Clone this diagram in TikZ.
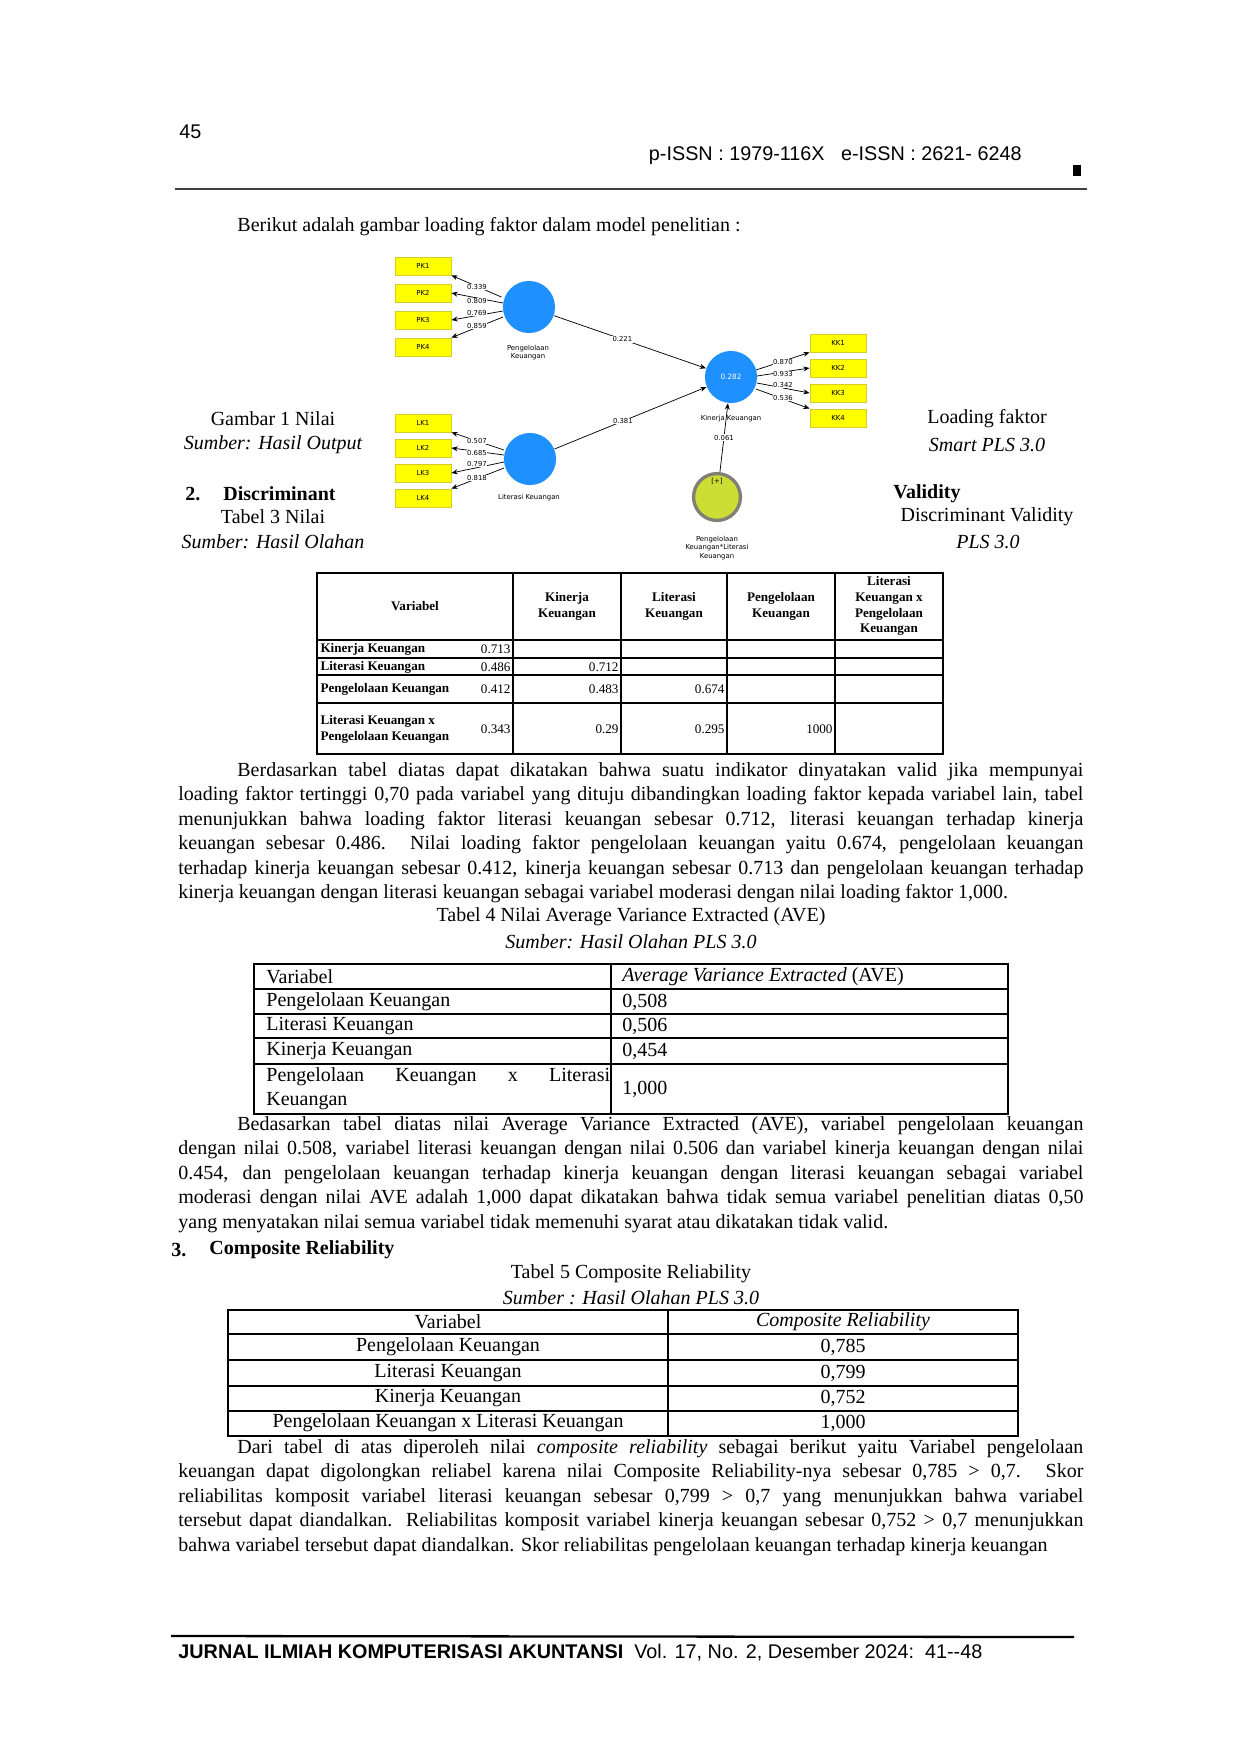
\documentclass[tikz,border=0pt]{standalone}
\usepackage{fontspec}
\setmainfont{Liberation Serif}
\newfontfamily\hsans{Liberation Sans}
\newfontfamily\dsans{DejaVu Sans}
\usetikzlibrary{arrows.meta}
\definecolor{pblue}{RGB}{30,144,255}
\definecolor{pyel}{RGB}{255,255,0}
\definecolor{pyeld}{RGB}{215,205,40}
\definecolor{pmod}{RGB}{204,221,51}
\definecolor{pring}{RGB}{128,128,118}
\begin{document}
\begin{tikzpicture}[x=0.48pt,y=-0.48pt,
  ind/.style={draw=pyeld,fill=pyel,minimum width=26.9pt,minimum height=8.6pt,inner sep=0pt,font=\dsans\fontsize{3.3}{4}\selectfont},
  lat/.style={circle,fill=pblue,minimum size=25pt,inner sep=0pt},
  lbl/.style={font=\dsans\fontsize{3.3}{3.9}\selectfont,align=center,inner sep=0.2pt},
  ld/.style={fill=white,font=\dsans\fontsize{3.3}{3.9}\selectfont,inner sep=0.3pt},
  arr/.style={-{Stealth[length=3pt,width=2.4pt]},line width=0.35pt},
  body/.style={anchor=north west,text width=434.4pt,align=justify,inner sep=0pt,font=\fontsize{9.6}{11.75}\selectfont},
  ctr/.style={font=\fontsize{9.6}{11.75}\selectfont,inner sep=0pt},
  tb/.style={font=\bfseries\fontsize{6.3}{7.6}\selectfont,inner sep=1pt},
  cell/.style={font=\fontsize{9.6}{11.75}\selectfont,inner sep=0pt}
]
\useasboundingbox (0,0) rectangle (1240,1754);
% header
\node[anchor=west,font=\hsans\fontsize{9.5}{11}\selectfont,inner sep=0pt] (pg) at (179,132) {45};
\node[anchor=east,font=\hsans\fontsize{9.5}{11}\selectfont,inner sep=0pt] (issn) at (1022,156) {p-ISSN : 1979-116X\ \ \ e-ISSN : 2621- 6248};
\fill (1073,165) rectangle (1081,176);
\draw[line width=1pt,black!75] (175,189) -- (1087,189);
\node[ctr,anchor=west] (intro) at (237,227) {Berikut adalah gambar loading faktor dalam model penelitian :};

% ===== diagram =====
\node[ind] (pk1) at (423,266) {PK1};
\node[ind] (pk2) at (423,293) {PK2};
\node[ind] (pk3) at (423,320) {PK3};
\node[ind] (pk4) at (423,347) {PK4};
\node[ind] (lk1) at (423,423) {LK1};
\node[ind] (lk2) at (423,448) {LK2};
\node[ind] (lk3) at (423,473) {LK3};
\node[ind] (lk4) at (423,498) {LK4};
\node[ind] (kk1) at (838,343) {KK1};
\node[ind] (kk2) at (838,368) {KK2};
\node[ind] (kk3) at (838,393) {KK3};
\node[ind] (kk4) at (838,418) {KK4};
\node[lat] (pen) at (529,307) {};
\node[lat] (lit) at (530,459) {};
\node[lat,font=\dsans\fontsize{3.5}{4}\selectfont,text=white] (kin) at (731,377) {0.282};
\node[circle,fill=pmod,draw=pring,line width=1.6pt,minimum size=22.5pt,inner sep=0pt] (mod) at (717,497) {};
\node[lbl] at (717,481) {[+]};
\node[lbl] (penl) at (528,353) {Pengelolaan\\Keuangan};
\node[lbl] (litl) at (529,498) {Literasi Keuangan};
\node[lbl] (kinl) at (731,419) {Kinerja Keuangan};
\node[lbl] (modl) at (717,548) {Pengelolaan\\Keuangan*Literasi\\Keuangan};
% loadings PK
\draw[arr] (pen.178) ++(-1,-9) coordinate (a1) -- (pk1.south east);
\draw[arr] (pen) ++(-26,-4) coordinate (a2) -- (pk2.east);
\draw[arr] (pen) ++(-26,4) coordinate (a3) -- (pk3.east);
\draw[arr] (pen) ++(-26,10) coordinate (a4) -- (pk4.north east);
\node[ld] at (477,287) {0.339};
\node[ld] at (477,301) {0.809};
\node[ld] at (477,313) {0.769};
\node[ld] at (477,326) {0.859};
% loadings LK
\draw[arr] (lit) ++(-26,-9) -- (lk1.south east);
\draw[arr] (lit) ++(-26,-4) -- (lk2.east);
\draw[arr] (lit) ++(-26,3) -- (lk3.east);
\draw[arr] (lit) ++(-26,9) -- (lk4.north east);
\node[ld] at (477,441) {0.507};
\node[ld] at (477,453) {0.685};
\node[ld] at (477,464) {0.797};
\node[ld] at (477,478) {0.818};
% loadings KK
\draw[arr] (kin) ++(25,-7) -- (kk1.south west);
\draw[arr] (kin) ++(26,-1) -- (kk2.west);
\draw[arr] (kin) ++(26,6) -- (kk3.west);
\draw[arr] (kin) ++(25,12) -- (kk4.north west);
\node[ld] at (783,362) {0.870};
\node[ld] at (783,374) {0.933};
\node[ld] at (783,385) {0.342};
\node[ld] at (783,398) {0.536};
% paths
\draw[arr] (pen) -- node[ld,pos=0.45] {0.221} (kin);
\draw[arr] (lit) -- node[ld,pos=0.45] {0.381} (kin);
\draw[arr] (mod) -- node[ld,pos=0.5] {0.061} (kin);

% side captions
\node[ctr] (g1) at (273,419) {Gambar 1 Nilai};
\node[ctr,font=\itshape\fontsize{9.6}{11.75}\selectfont] (g2) at (273,445) {Sumber: Hasil Output};
\node[ctr] (g3) at (987,419) {Loading faktor};
\node[ctr,font=\itshape\fontsize{9.6}{11.75}\selectfont] (g4) at (987,445) {Smart PLS 3.0};
\node[ctr,anchor=west,font=\bfseries\fontsize{9.6}{11.75}\selectfont] (n2) at (185,494) {2.};
\node[ctr,anchor=west,font=\bfseries\fontsize{9.6}{11.75}\selectfont] (dis) at (223,494) {Discriminant};
\node[ctr] (t3) at (273,517) {Tabel 3 Nilai};
\node[ctr,font=\itshape\fontsize{9.6}{11.75}\selectfont] (t3s) at (273,542) {Sumber: Hasil Olahan};
\node[ctr,anchor=west,font=\bfseries\fontsize{9.6}{11.75}\selectfont] (val) at (893,494) {Validity};
\node[ctr] (dv) at (987,517) {Discriminant Validity};
\node[ctr,font=\itshape\fontsize{9.6}{11.75}\selectfont] (pls) at (988,542) {PLS 3.0};

% ===== Table 3 =====
\begin{scope}[line width=0.9pt]
\draw (317,573) rectangle (943,754);
\foreach \x in {513,621,727,835} \draw (\x,573) -- (\x,754);
\foreach \y in {640,658,675,703} \draw (317,\y) -- (943,\y);
\end{scope}
\node[tb] at (415,606) {Variabel};
\node[tb,align=center] at (567,606) {Kinerja\\Keuangan};
\node[tb,align=center] at (674,606) {Literasi\\Keuangan};
\node[tb,align=center] at (781,606) {Pengelolaan\\Keuangan};
\node[tb,align=center] at (889,606) {Literasi\\Keuangan x\\Pengelolaan\\Keuangan};
\node[tb,anchor=west] at (318,649) {Kinerja Keuangan};
\node[tb,anchor=west] at (318,667) {Literasi Keuangan};
\node[tb,anchor=west] at (318,689) {Pengelolaan Keuangan};
\node[tb,anchor=west,align=left] at (318,729) {Literasi Keuangan x\\Pengelolaan Keuangan};
\tikzset{tv/.style={font=\fontsize{6.3}{7.6}\selectfont,inner sep=1pt,anchor=east}}
\node[tv] at (513,649) {0.713};
\node[tv] at (513,667) {0.486};
\node[tv] at (621,667) {0.712};
\node[tv] at (513,689) {0.412};
\node[tv] at (621,689) {0.483};
\node[tv] at (727,689) {0.674};
\node[tv] at (513,729) {0.343};
\node[tv] at (621,729) {0.29};
\node[tv] at (727,729) {0.295};
\node[tv] at (835,729) {1000};

% paragraph 1
\node[body] (p1) at (178,762) {\hspace*{28.3pt}Berdasarkan tabel diatas dapat dikatakan bahwa suatu indikator dinyatakan valid jika mempunyai\linebreak
loading faktor tertinggi 0,70 pada variabel yang dituju dibandingkan loading faktor kepada variabel lain, tabel\linebreak
menunjukkan bahwa loading faktor literasi keuangan sebesar 0.712, literasi keuangan terhadap kinerja\linebreak
keuangan sebesar 0.486. Nilai loading faktor pengelolaan keuangan yaitu 0.674, pengelolaan keuangan\linebreak
terhadap kinerja keuangan sebesar 0.412, kinerja keuangan sebesar 0.713 dan pengelolaan keuangan terhadap\linebreak
kinerja keuangan dengan literasi keuangan sebagai variabel moderasi dengan nilai loading faktor 1,000.};
\node[ctr] (t4) at (631,917) {Tabel 4 Nilai Average Variance Extracted (AVE)};
\node[ctr,font=\itshape\fontsize{9.6}{11.75}\selectfont] (t4s) at (631,942) {Sumber: Hasil Olahan PLS 3.0};

% ===== Table 4 =====
\begin{scope}[line width=0.6pt]
\draw (254,964) rectangle (1008,1114);
\draw (611,964) -- (611,1114);
\foreach \y in {989,1014,1038,1064} \draw (254,\y) -- (1008,\y);
\end{scope}
\node[cell,anchor=west] at (266,977) {Variabel};
\node[cell,anchor=west] at (622,977) {\textit{Average Variance Extracted} (AVE)};
\node[cell,anchor=west] at (266,1002) {Pengelolaan Keuangan};
\node[cell,anchor=west] at (622,1002) {0,508};
\node[cell,anchor=west] at (266,1026) {Literasi Keuangan};
\node[cell,anchor=west] at (622,1026) {0,506};
\node[cell,anchor=west] at (266,1051) {Kinerja Keuangan};
\node[cell,anchor=west] at (622,1051) {0,454};
\node[cell,anchor=north west,text width=165pt,align=justify] at (266,1067) {Pengelolaan Keuangan x Literasi\linebreak Keuangan};
\node[cell,anchor=west] at (622,1089) {1,000};

% paragraph 2
\node[body] (p2) at (178,1116) {\hspace*{28.3pt}Bedasarkan tabel diatas nilai Average Variance Extracted (AVE), variabel pengelolaan keuangan\linebreak
dengan nilai 0.508, variabel literasi keuangan dengan nilai 0.506 dan variabel kinerja keuangan dengan nilai\linebreak
0.454, dan pengelolaan keuangan terhadap kinerja keuangan dengan literasi keuangan sebagai variabel\linebreak
moderasi dengan nilai AVE adalah 1,000 dapat dikatakan bahwa tidak semua variabel penelitian diatas 0,50\linebreak
yang menyatakan nilai semua variabel tidak memenuhi syarat atau dikatakan tidak valid.};
\node[ctr,anchor=west,font=\bfseries\fontsize{9.6}{11.75}\selectfont] (n3) at (171,1250) {3.};
\node[ctr,anchor=west,font=\bfseries\fontsize{9.6}{11.75}\selectfont] (cr) at (209,1250) {Composite Reliability};
\node[ctr] (t5) at (631,1274) {Tabel 5 Composite Reliability};
\node[ctr,font=\itshape\fontsize{9.6}{11.75}\selectfont] (t5s) at (631,1298) {Sumber : Hasil Olahan PLS 3.0};

% ===== Table 5 =====
\begin{scope}[line width=0.6pt]
\draw (228,1310) rectangle (1018,1436);
\draw (668,1310) -- (668,1436);
\foreach \y in {1334,1360,1386,1411} \draw (228,\y) -- (1018,\y);
\end{scope}
\node[cell] at (448,1322) {Variabel};
\node[cell,font=\itshape\fontsize{9.6}{11.75}\selectfont] at (843,1322) {Composite Reliability};
\node[cell] at (448,1347) {Pengelolaan Keuangan};
\node[cell] at (843,1347) {0,785};
\node[cell] at (448,1373) {Literasi Keuangan};
\node[cell] at (843,1373) {0,799};
\node[cell] at (448,1398) {Kinerja Keuangan};
\node[cell] at (843,1398) {0,752};
\node[cell] at (448,1423) {Pengelolaan Keuangan x Literasi Keuangan};
\node[cell] at (843,1423) {1,000};

% paragraph 3
\node[body] (p3) at (178,1439) {\parfillskip=0pt\hspace*{28.3pt}Dari tabel di atas diperoleh nilai \textit{composite reliability} sebagai berikut yaitu Variabel pengelolaan\linebreak
keuangan dapat digolongkan reliabel karena nilai Composite Reliability-nya sebesar 0,785 > 0,7. Skor\linebreak
reliabilitas komposit variabel literasi keuangan sebesar 0,799 > 0,7 yang menunjukkan bahwa variabel\linebreak
tersebut dapat diandalkan. Reliabilitas komposit variabel kinerja keuangan sebesar 0,752 > 0,7 menunjukkan\linebreak
bahwa variabel tersebut dapat diandalkan. Skor reliabilitas pengelolaan keuangan terhadap kinerja keuangan};

% footer
\draw[line width=1.1pt] (171,1636) -- (1074,1637);
\node[anchor=west,inner sep=0pt,font=\hsans\fontsize{9.5}{11}\selectfont] (ft) at (178,1653) {\textbf{JURNAL ILMIAH KOMPUTERISASI AKUNTANSI}\ \ Vol. 17, No. 2, Desember 2024:\ \ 41--48};
\end{tikzpicture}
\end{document}
